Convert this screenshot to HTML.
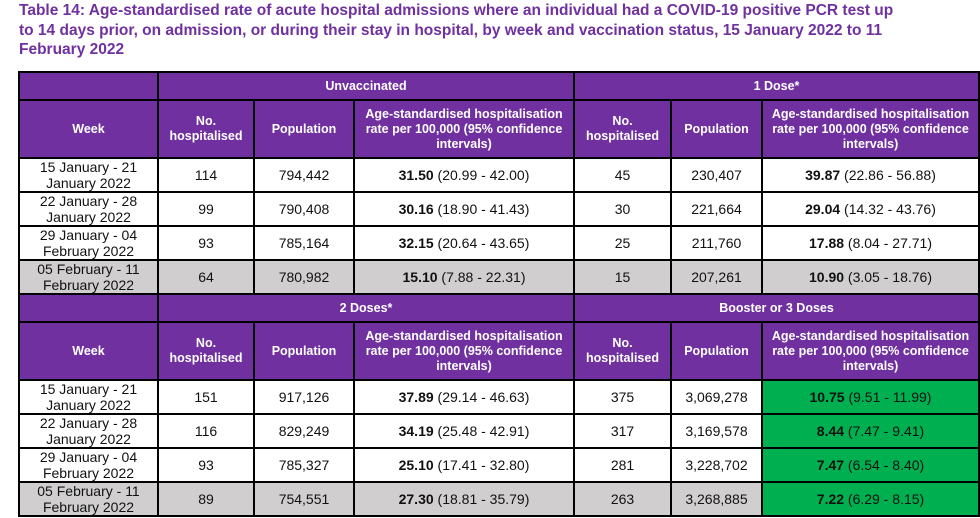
<!DOCTYPE html>
<html><head><style>
body{margin:0;background:#fff;font-family:"Liberation Sans",Arial,sans-serif;width:980px;height:518px;overflow:hidden;position:relative}
h1{position:absolute;left:19px;top:1px;margin:0;font-size:15.5px;line-height:19.5px;color:#7030a0;font-weight:bold;width:885px}
table{position:absolute;left:18px;top:71px;border-collapse:collapse;table-layout:fixed}
td{border:2px solid #000;text-align:center;font-size:14px;padding:0;line-height:16px;color:#111}
.h{background:#7030a0;color:#fff;font-weight:bold;font-size:12.5px;line-height:15px}
.g td{background:#d0cecf}
td.gr{background:#00b050!important}
</style></head><body>
<h1>Table 14: Age-standardised rate of acute hospital admissions where an individual had a COVID-19 positive PCR test up<br>to 14 days prior, on admission, or during their stay in hospital, by week and vaccination status, 15 January 2022 to 11<br>February 2022</h1>
<table>
<colgroup><col style="width:139px"><col style="width:96px"><col style="width:100px"><col style="width:220px"><col style="width:97px"><col style="width:91px"><col style="width:217px"></colgroup>
<tr style="height:28px"><td class="h"></td><td class="h" colspan="3">Unvaccinated</td><td class="h" colspan="3">1 Dose*</td></tr>
<tr style="height:58px"><td class="h">Week</td><td class="h">No.<br>hospitalised</td><td class="h">Population</td><td class="h">Age-standardised hospitalisation rate per 100,000 (95% confidence intervals)</td><td class="h">No.<br>hospitalised</td><td class="h">Population</td><td class="h">Age-standardised hospitalisation rate per 100,000 (95% confidence intervals)</td></tr>
<tr style="height:34px"><td>15 January - 21<br>January 2022</td><td>114</td><td>794,442</td><td><b>31.50</b> (20.99 - 42.00)</td><td>45</td><td>230,407</td><td><b>39.87</b> (22.86 - 56.88)</td></tr>
<tr style="height:34px"><td>22 January - 28<br>January 2022</td><td>99</td><td>790,408</td><td><b>30.16</b> (18.90 - 41.43)</td><td>30</td><td>221,664</td><td><b>29.04</b> (14.32 - 43.76)</td></tr>
<tr style="height:34px"><td>29 January - 04<br>February 2022</td><td>93</td><td>785,164</td><td><b>32.15</b> (20.64 - 43.65)</td><td>25</td><td>211,760</td><td><b>17.88</b> (8.04 - 27.71)</td></tr>
<tr style="height:33px" class="g"><td>05 February - 11<br>February 2022</td><td>64</td><td>780,982</td><td><b>15.10</b> (7.88 - 22.31)</td><td>15</td><td>207,261</td><td><b>10.90</b> (3.05 - 18.76)</td></tr>
<tr style="height:28px"><td class="h"></td><td class="h" colspan="3">2 Doses*</td><td class="h" colspan="3">Booster or 3 Doses</td></tr>
<tr style="height:58px"><td class="h">Week</td><td class="h">No.<br>hospitalised</td><td class="h">Population</td><td class="h">Age-standardised hospitalisation rate per 100,000 (95% confidence intervals)</td><td class="h">No.<br>hospitalised</td><td class="h">Population</td><td class="h">Age-standardised hospitalisation rate per 100,000 (95% confidence intervals)</td></tr>
<tr style="height:34px"><td>15 January - 21<br>January 2022</td><td>151</td><td>917,126</td><td><b>37.89</b> (29.14 - 46.63)</td><td>375</td><td>3,069,278</td><td class="gr"><b>10.75</b> (9.51 - 11.99)</td></tr>
<tr style="height:34px"><td>22 January - 28<br>January 2022</td><td>116</td><td>829,249</td><td><b>34.19</b> (25.48 - 42.91)</td><td>317</td><td>3,169,578</td><td class="gr"><b>8.44</b> (7.47 - 9.41)</td></tr>
<tr style="height:34px"><td>29 January - 04<br>February 2022</td><td>93</td><td>785,327</td><td><b>25.10</b> (17.41 - 32.80)</td><td>281</td><td>3,228,702</td><td class="gr"><b>7.47</b> (6.54 - 8.40)</td></tr>
<tr style="height:33px" class="g"><td>05 February - 11<br>February 2022</td><td>89</td><td>754,551</td><td><b>27.30</b> (18.81 - 35.79)</td><td>263</td><td>3,268,885</td><td class="gr"><b>7.22</b> (6.29 - 8.15)</td></tr>
</table>
</body></html>
